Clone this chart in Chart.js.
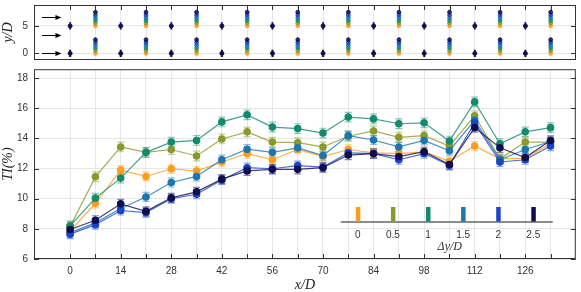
<!DOCTYPE html>
<html>
<head>
<meta charset="utf-8">
<script src="https://cdn.jsdelivr.net/npm/chart.js@4.4.0/dist/chart.umd.min.js"></script>
<style>
  body { margin: 0; background: #fff; }
  #wrap { position: relative; width: 581px; height: 292px; }
  #bot { position: absolute; left: 0; top: 64px; }
  #top { position: absolute; left: 0; top: 0; }
</style>
</head>
<body>
<div id="wrap">
  <canvas id="bot" width="581" height="228"></canvas>
  <canvas id="top" width="581" height="65"></canvas>
</div>
<script>
/* ---------------- data ---------------- */
const xPos = [0, 7, 14, 21, 28, 35, 42, 49, 56, 63, 70, 77, 84, 91, 98, 105, 112, 119, 126, 133];
const xTickVals = [0, 7, 14, 21, 28, 35, 42, 49, 56, 63, 70, 77, 84, 91, 98, 105, 112, 119, 126, 133];
const xLabelVals = [0, 14, 28, 42, 56, 70, 84, 98, 112, 126];
const tiTicks = [6, 8, 10, 12, 14, 16, 18];
const yDTicks = [0, 5];

const dyLabels = ['0', '0.5', '1', '1.5', '2', '2.5'];
const dyValues = [0, 0.5, 1, 1.5, 2, 2.5];
const colors = ['#ff9c1a', '#8b992b', '#138a6d', '#1b76b2', '#1a45c8', '#100e50'];

const ti_0  = [7.85, 9.7, 11.9, 11.48, 11.99, 11.84, 12.44, 13.0, 12.59, 13.27, 12.8, 13.27, 13.05, 13.0, 13.12, 12.48, 13.5, 12.65, 12.7, 13.65];
const ti_05 = [8.15, 11.46, 13.44, 13.08, 13.27, 12.84, 13.97, 14.44, 13.76, 13.72, 13.44, 14.15, 14.5, 14.08, 14.19, 13.5, 15.51, 12.65, 13.76, 13.76];
const ti_1  = [8.2, 10.04, 11.37, 13.08, 13.76, 13.87, 15.1, 15.57, 14.76, 14.66, 14.36, 15.42, 15.3, 14.98, 15.04, 13.83, 16.43, 13.65, 14.44, 14.72];
const ti_15 = [7.75, 8.4, 9.35, 10.12, 11.08, 11.48, 12.59, 13.29, 13.08, 13.38, 12.87, 14.19, 13.9, 13.44, 13.87, 13.19, 15.21, 12.59, 13.27, 13.8];
const ti_2  = [7.65, 8.28, 9.22, 9.08, 10.0, 10.3, 11.25, 12.06, 11.99, 12.2, 12.1, 13.05, 13.0, 12.59, 13.0, 12.22, 15.04, 12.44, 12.59, 13.5];
const ti_25 = [7.96, 8.57, 9.66, 9.16, 10.06, 10.46, 11.3, 11.85, 11.95, 11.95, 12.06, 12.9, 13.0, 12.8, 13.12, 12.27, 14.72, 13.38, 12.74, 13.87];
const tiErr = [0.3, 0.32, 0.32, 0.3, 0.3, 0.3];

// top panel: probe positions
const columnX = [7, 21, 35, 49, 63, 77, 91, 105, 119, 133];
const singleX = [0, 14, 28, 42, 56, 70, 84, 98, 112, 126];
const rowBase = [0, 5];
const arrowY = [0, 3.3, 6.6];
const arrowX = [-7.8, -2.4];

/* ---------------- helpers ---------------- */
const tickFont = { family: 'Liberation Sans, Arial, sans-serif', size: 10 };
const titleFont = { family: 'Liberation Serif, DejaVu Serif, serif', size: 14, style: 'italic' };
const gridColor = '#e6e6e6';

function alpha(hex, a) {
  const n = parseInt(hex.slice(1), 16);
  return 'rgba(' + (n >> 16) + ',' + ((n >> 8) & 255) + ',' + (n & 255) + ',' + a + ')';
}

const errorBars = {
  id: 'errorBars',
  beforeDatasetsDraw(chart) {
    const ctx = chart.ctx, ys = chart.scales.y;
    chart.data.datasets.forEach((ds, i) => {
      if (ds.err == null) return;
      const meta = chart.getDatasetMeta(i);
      ctx.save();
      ctx.strokeStyle = ds.errColor;
      ctx.lineWidth = 1.2;
      meta.data.forEach((pt, j) => {
        const v = ds.data[j].y;
        const y1 = ys.getPixelForValue(v - ds.err), y2 = ys.getPixelForValue(v + ds.err);
        const w = ds.capW;
        ctx.beginPath();
        ctx.moveTo(pt.x, y1); ctx.lineTo(pt.x, y2);
        if (w) {
          ctx.moveTo(pt.x - w, y1); ctx.lineTo(pt.x + w, y1);
          ctx.moveTo(pt.x - w, y2); ctx.lineTo(pt.x + w, y2);
        }
        ctx.stroke();
      });
      ctx.restore();
    });
  }
};

const frame = {
  id: 'frame',
  afterDraw(chart, args, opts) {
    const ctx = chart.ctx, a = chart.chartArea;
    const xs = chart.scales.x, ys = chart.scales.y;
    ctx.save();
    ctx.strokeStyle = '#333';
    ctx.lineWidth = 1;
    ctx.strokeRect(a.left + 0.5, a.top + 0.5, a.right - a.left - 1, a.bottom - a.top - 1);
    ctx.beginPath();
    ys.ticks.forEach(t => {
      const y = Math.round(ys.getPixelForValue(t.value)) + 0.5;
      ctx.moveTo(a.left, y); ctx.lineTo(a.left + 5, y);
      ctx.moveTo(a.right, y); ctx.lineTo(a.right - 5, y);
    });
    xs.ticks.forEach(t => {
      const x = Math.round(xs.getPixelForValue(t.value)) + 0.5;
      if (opts.bottom) { ctx.moveTo(x, a.bottom); ctx.lineTo(x, a.bottom - 5); }
      if (opts.top) { ctx.moveTo(x, a.top); ctx.lineTo(x, a.top + 5); }
    });
    ctx.stroke();
    ctx.restore();
  }
};

const arrows = {
  id: 'arrows',
  afterDatasetsDraw(chart) {
    const ctx = chart.ctx, xs = chart.scales.x, ys = chart.scales.y;
    const x0 = xs.getPixelForValue(arrowX[0]), x1 = xs.getPixelForValue(arrowX[1]);
    ctx.save();
    ctx.strokeStyle = '#000'; ctx.fillStyle = '#000'; ctx.lineWidth = 1;
    arrowY.forEach(v => {
      const y = Math.round(ys.getPixelForValue(v)) + 0.5;
      ctx.beginPath(); ctx.moveTo(x0, y); ctx.lineTo(x1 - 3, y); ctx.stroke();
      ctx.beginPath(); ctx.moveTo(x1, y); ctx.lineTo(x1 - 6, y - 2.5); ctx.lineTo(x1 - 6, y + 2.5); ctx.closePath(); ctx.fill();
    });
    ctx.restore();
  }
};

const dyLegend = {
  id: 'dyLegend',
  afterDraw(chart) {
    const ctx = chart.ctx, a = chart.chartArea;
    const left = a.right - 235, right = a.right - 23, y = a.bottom - 37;
    ctx.save();
    ctx.strokeStyle = '#666'; ctx.lineWidth = 1.5;
    ctx.beginPath(); ctx.moveTo(left, y); ctx.lineTo(right, y); ctx.stroke();
    ctx.font = '10px Liberation Sans, Arial, sans-serif';
    ctx.textAlign = 'center'; ctx.textBaseline = 'middle';
    dyLabels.forEach((lab, i) => {
      const cx = left + 17 + i * 35.1;
      ctx.fillStyle = colors[i];
      ctx.fillRect(cx - 2, y - 15, 4.5, 14.5);
      ctx.fillStyle = '#333';
      ctx.fillText(lab, cx, y + 13);
    });
    ctx.font = 'italic 12px Liberation Serif, DejaVu Serif, serif';
    ctx.fillText('\u0394y/D', left + 109, y + 25);
    ctx.restore();
  }
};

function fixTicks(values) {
  return function (scale) { scale.ticks = values.map(v => ({ value: v })); };
}
function fitSize(prop, size) {
  return function (s) {
    s[prop] = size;
    s.paddingTop = 0; s.paddingBottom = 0; s.paddingLeft = 0; s.paddingRight = 0;
  };
}

/* ---------------- bottom panel: TI ---------------- */
const tiSeries = [ti_0, ti_05, ti_1, ti_15, ti_2, ti_25];
new Chart(document.getElementById('bot'), {
  type: 'line',
  data: {
    datasets: tiSeries.map((s, i) => ({
      label: dyLabels[i],
      data: s.map((v, j) => ({ x: xPos[j], y: v })),
      borderColor: alpha(colors[i], 0.8),
      backgroundColor: colors[i],
      pointBackgroundColor: colors[i],
      pointBorderColor: colors[i],
      pointRadius: 3.2,
      borderWidth: 1.2,
      err: tiErr[i],
      errColor: alpha(colors[i], 0.5),
      capW: 3.5,
      order: 5 - i
    }))
  },
  options: {
    responsive: false,
    devicePixelRatio: 1,
    animation: false,
    layout: { padding: { top: 0, right: 1, bottom: 0, left: 0 } },
    plugins: { legend: { display: false }, tooltip: { enabled: false }, frame: { bottom: true } },
    scales: {
      x: {
        type: 'linear', min: -10, max: 140,
        afterBuildTicks: fixTicks(xTickVals),
        afterFit: fitSize('height', 33),
        grid: { color: gridColor, drawTicks: false },
        border: { display: false },
        ticks: {
          font: tickFont, color: '#333', padding: 6, maxRotation: 0, autoSkip: false,
          callback: v => xLabelVals.includes(v) ? String(v) : ''
        },
        title: { display: true, text: 'x/D', font: titleFont, color: '#222', padding: { top: 0, bottom: -2 } }
      },
      y: {
        min: 6, max: 18.6,
        afterBuildTicks: fixTicks(tiTicks),
        afterFit: fitSize('width', 34),
        grid: { color: gridColor, drawTicks: false },
        border: { display: false },
        ticks: { font: tickFont, color: '#333', padding: 6 },
        title: { display: true, text: 'TI(%)', font: titleFont, color: '#222', padding: { top: 0, bottom: 0 } }
      }
    }
  },
  plugins: [errorBars, frame, dyLegend]
});

/* ---------------- top panel: probe positions ---------------- */
const topSets = dyValues.map((d, i) => ({
  data: rowBase.flatMap(b => columnX.map(x => ({ x: x, y: b + d }))),
  backgroundColor: alpha(colors[i], 0.85),
  borderColor: alpha(colors[i], 0.85),
  pointRadius: 1.9,
  showLine: false,
  err: 0.35,
  errColor: alpha(colors[i], 0.4),
  capW: 0,
  order: 6 - i
}));
topSets.push({
  data: rowBase.flatMap(b => singleX.map(x => ({ x: x, y: b }))),
  backgroundColor: colors[5],
  borderColor: colors[5],
  pointRadius: 2,
  showLine: false,
  err: 0.55,
  errColor: colors[5],
  capW: 1,
  order: 0
});

new Chart(document.getElementById('top'), {
  type: 'scatter',
  data: { datasets: topSets },
  options: {
    responsive: false,
    devicePixelRatio: 1,
    animation: false,
    layout: { padding: { top: 1, right: 1, bottom: 1, left: 0 } },
    plugins: { legend: { display: false }, tooltip: { enabled: false }, frame: { top: true } },
    scales: {
      x: {
        type: 'linear', min: -10, max: 140,
        afterBuildTicks: fixTicks(xTickVals),
        afterFit: fitSize('height', 0),
        grid: { color: gridColor, drawTicks: false },
        border: { display: false },
        ticks: { display: false }
      },
      y: {
        min: -1.2, max: 8.8,
        afterBuildTicks: fixTicks(yDTicks),
        afterFit: fitSize('width', 34),
        grid: { color: gridColor, drawTicks: false },
        border: { display: false },
        ticks: { font: tickFont, color: '#333', padding: 6 },
        title: { display: true, text: 'y/D', font: titleFont, color: '#222', padding: { top: 0, bottom: 0 } }
      }
    }
  },
  plugins: [errorBars, frame, arrows]
});
</script>
</body>
</html>
